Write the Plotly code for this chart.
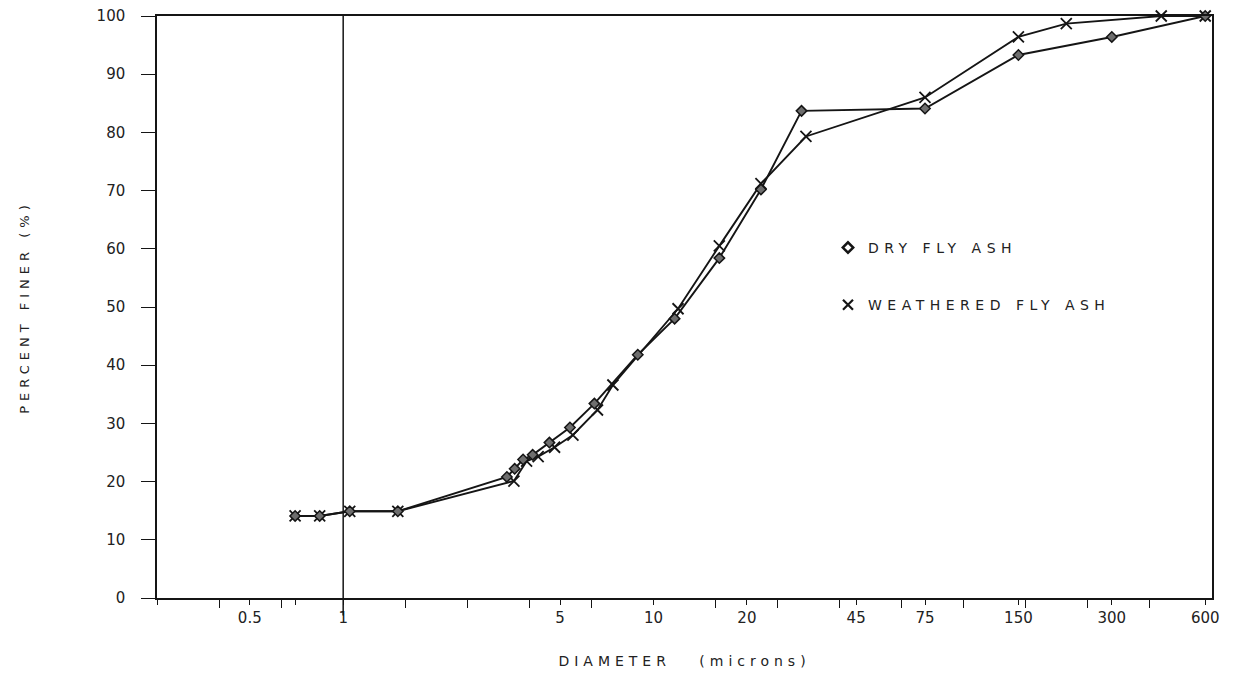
import plotly.graph_objects as go

# ---- data ----
dry_diameter = [0.70, 0.84, 1.05, 1.5, 3.37, 3.57, 3.80, 4.08, 4.62, 5.38, 6.45,
                8.9, 11.7, 16.3, 22.2, 30, 75, 150, 300, 600]
dry_percent = [14.1, 14.1, 14.9, 14.9, 20.8, 22.2, 23.8, 24.6, 26.7, 29.3, 33.4,
               41.8, 48.0, 58.4, 70.2, 83.7, 84.1, 93.3, 96.4, 100]

weathered_diameter = [0.70, 0.84, 1.05, 1.5, 3.55, 3.9, 4.25, 4.8, 5.5, 6.6, 7.4,
                      12.0, 16.3, 22.2, 31, 75, 150, 214, 433, 600]
weathered_percent = [14.1, 14.1, 14.9, 14.9, 20.1, 23.5, 24.3, 25.9, 28.0, 32.3, 36.6,
                     49.7, 60.5, 71.2, 79.3, 86.0, 96.4, 98.7, 100, 100]

x_major_vals = [0.2512, 0.5, 0.7, 1, 5, 10, 20, 45, 75, 150, 300, 600]
x_major_text = ["", "0.5", "", "1", "5", "10", "20", "45", "75", "150", "300", "600"]
x_minor_vals = [0.398, 0.631, 1.585, 2.512, 3.981, 6.310, 15.85, 25.12, 39.81,
                63.10, 100, 158.5, 251.2, 398.1]
y_tick_vals = [0, 10, 20, 30, 40, 50, 60, 70, 80, 90, 100]

INK = "#151515"
TXT = "#222222"
FONT = "DejaVu Sans"

fig = go.Figure()

fig.add_trace(go.Scatter(
    x=weathered_diameter, y=weathered_percent, mode="lines+markers",
    line=dict(color=INK, width=1.9),
    marker=dict(symbol="x-thin", size=11, color=INK, line=dict(color=INK, width=1.8)),
    showlegend=False, cliponaxis=False, name="WEATHERED FLY ASH"))

fig.add_trace(go.Scatter(
    x=dry_diameter, y=dry_percent, mode="lines+markers",
    line=dict(color=INK, width=1.9),
    marker=dict(symbol="diamond", size=8, color="#6e6e6e", line=dict(color=INK, width=1.5)),
    showlegend=False, cliponaxis=False, name="DRY FLY ASH"))

# legend entries (marker only)
fig.add_trace(go.Scatter(
    x=[None], y=[None], mode="markers", name="DRY FLY ASH", legendgroup="a",
    marker=dict(symbol="diamond-open", size=8, color=INK, line=dict(color=INK, width=2.5))))
fig.add_trace(go.Scatter(
    x=[None], y=[None], mode="markers", name="WEATHERED FLY ASH", legendgroup="b",
    marker=dict(symbol="x-thin", size=10, color=INK, line=dict(color=INK, width=2.2))))

# vertical reference line at 1 micron
fig.add_shape(type="line", xref="x", yref="paper", x0=1, x1=1, y0=-0.03, y1=1,
              line=dict(color=INK, width=1.5))

fig.update_layout(
    width=1227, height=673,
    margin=dict(l=149, r=23, t=8, b=83),
    plot_bgcolor="white", paper_bgcolor="white",
    font=dict(family=FONT, color=INK),
    legend=dict(x=0.636, y=0.629, xanchor="left", yanchor="top",
                traceorder="grouped", tracegroupgap=36,
                font=dict(family=FONT, size=14, color=TXT),
                bgcolor="rgba(0,0,0,0)"),
    xaxis=dict(
        type="log", range=[-0.6, 2.8], automargin=False,
        showline=True, linecolor=INK, linewidth=1.5, mirror=True,
        showgrid=False, zeroline=False,
        tickmode="array", tickvals=x_major_vals, ticktext=x_major_text,
        ticks="outside", ticklen=5, tickwidth=1.3, tickcolor=INK,
        tickfont=dict(family=FONT, size=15, color=TXT),
        ticklabelstandoff=0, ticklabeloverflow="allow",
        minor=dict(tickmode="array", tickvals=x_minor_vals, ticks="outside",
                   ticklen=8, tickwidth=1.3, tickcolor=INK, showgrid=False),
        title=dict(text="DIAMETER   (microns)", standoff=30,
                   font=dict(family=FONT, size=14, color=TXT)),
    ),
    xaxis2=dict(
        type="log", range=[-0.6, 2.8], overlaying="x", matches="x", anchor="y",
        side="bottom", showline=False, showgrid=False, zeroline=False, automargin=False,
        tickmode="array", tickvals=x_major_vals, showticklabels=False,
        ticks="inside", ticklen=5, tickwidth=1.3, tickcolor=INK,
    ),
    yaxis=dict(
        range=[0, 100], automargin=False,
        showline=True, linecolor=INK, linewidth=1.5, mirror=True,
        showgrid=False, zeroline=False,
        tickmode="array", tickvals=y_tick_vals,
        ticks="outside", ticklen=14, tickwidth=1.3, tickcolor=INK,
        tickfont=dict(family=FONT, size=15, color=TXT),
        ticklabelstandoff=13, ticklabeloverflow="allow",
        title=dict(text="PERCENT FINER (%)", standoff=64,
                   font=dict(family=FONT, size=13, color=TXT)),
    ),
)

# the original lettering is widely spaced
spacing_js = """
var gd = document.querySelector('.plotly-graph-div');
function spaceText() {
  gd.querySelectorAll('.xtitle').forEach(function(e){ e.style.letterSpacing = '5px'; });
  gd.querySelectorAll('.ytitle').forEach(function(e){ e.style.letterSpacing = '5px'; });
  gd.querySelectorAll('.legendtext').forEach(function(e){ e.style.letterSpacing = '5.5px'; });
  gd.querySelectorAll('.legend .scrollbox').forEach(function(e){ e.removeAttribute('clip-path'); });
  gd.querySelectorAll('.legend').forEach(function(e){ e.style.overflow = 'visible'; });
}
spaceText();
gd.on('plotly_afterplot', spaceText);
"""

fig.write_html("out.html", post_script=spacing_js)
